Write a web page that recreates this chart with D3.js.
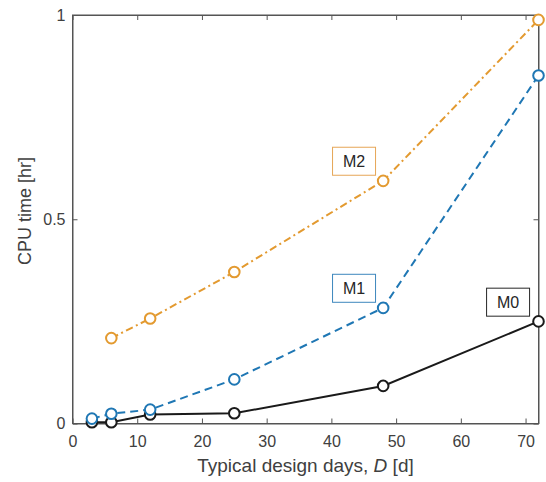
<!DOCTYPE html>
<html><head><meta charset="utf-8">
<script src="https://cdn.jsdelivr.net/npm/d3@7"></script>
<style>body{margin:0;background:#fff}svg{display:block}text{font-family:"Liberation Sans",Arial,sans-serif}</style>
</head><body><svg id="c" width="546" height="482"></svg>
<script>
const xM0 = [3, 6, 12, 25, 48, 72];
const yM0 = [0.003, 0.003, 0.022, 0.025, 0.092, 0.250];
const xM1 = [3, 6, 12, 25, 48, 72];
const yM1 = [0.012, 0.024, 0.034, 0.108, 0.283, 0.852];
const xM2 = [6, 12, 25, 48, 72];
const yM2 = [0.209, 0.257, 0.371, 0.594, 0.988];
const xTicks = [0, 10, 20, 30, 40, 50, 60, 70];
const yTicks = [0, 0.5, 1];
const yTickLabels = ["0", "0.5", "1"];
const labels = ["M0", "M1", "M2"];
const labelAt = [[67.3, 0.297], [43.5, 0.331], [43.5, 0.642]];

const colors = ["#1a1a1a", "#1f77b4", "#e39a30"];
const boxColors = ["#262626", "#3d87bd", "#e6a657"];
const dashes = [null, "8,5", "7.5,3.5,2,3.5"];

const svg = d3.select("#c");
const L = 72.5, R = 538.5, T = 15, B = 423.5;
const x = d3.scaleLinear().domain([0, 72]).range([L, R]);
const y = d3.scaleLinear().domain([0, 1]).range([B, T]);
const axisCol = "#404040";

// box
svg.append("rect").attr("x", L).attr("y", T).attr("width", R - L).attr("height", B - T)
  .attr("fill", "none").attr("stroke", "#555").attr("stroke-width", 1);

// axes with inward ticks
const gx = svg.append("g").attr("transform", `translate(0,${B})`)
  .call(d3.axisBottom(x).tickValues(xTicks).tickSizeInner(-5).tickSizeOuter(0).tickPadding(12));
const gxt = svg.append("g").attr("transform", `translate(0,${T})`)
  .call(d3.axisTop(x).tickValues(xTicks).tickSizeInner(-5).tickSizeOuter(0).tickFormat(""));
const gy = svg.append("g").attr("transform", `translate(${L},0)`)
  .call(d3.axisLeft(y).tickValues(yTicks).tickSizeInner(-5).tickSizeOuter(0).tickPadding(7)
    .tickFormat((d, i) => yTickLabels[i]));
const gyr = svg.append("g").attr("transform", `translate(${R},0)`)
  .call(d3.axisRight(y).tickValues(yTicks).tickSizeInner(-5).tickSizeOuter(0).tickFormat(""));
[gx, gxt, gy, gyr].forEach(g => {
  g.select(".domain").attr("stroke", "#555");
  g.selectAll(".tick line").attr("stroke", "#555");
  g.selectAll(".tick text").attr("fill", axisCol).attr("font-size", 16)
    .style("font-family", '"Liberation Sans",Arial,sans-serif');
});

// axis labels
const xl = svg.append("text").attr("x", 305.5).attr("y", 472).attr("text-anchor", "middle")
  .attr("fill", axisCol).attr("font-size", 19);
xl.append("tspan").text("Typical design days, ");
xl.append("tspan").attr("font-style", "italic").text("D");
xl.append("tspan").text(" [d]");
svg.append("text").attr("transform", `translate(31,211) rotate(-90)`)
  .attr("text-anchor", "middle").attr("fill", axisCol).attr("font-size", 18).text("CPU time [hr]");

// series
const series = [[xM0, yM0], [xM1, yM1], [xM2, yM2]];
const line = d3.line().x(d => x(d[0])).y(d => y(d[1]));
series.forEach(([xs, ys], i) => {
  const pts = xs.map((v, j) => [v, ys[j]]);
  svg.append("path").datum(pts).attr("d", line).attr("fill", "none")
    .attr("stroke", colors[i]).attr("stroke-width", 2)
    .attr("stroke-dasharray", dashes[i]);
  svg.selectAll(null).data(pts).enter().append("circle")
    .attr("cx", d => x(d[0])).attr("cy", d => y(d[1])).attr("r", 5.3)
    .attr("fill", "#fff").attr("stroke", colors[i]).attr("stroke-width", 2);
});

// label boxes
labels.forEach((t, i) => {
  const cx = x(labelAt[i][0]), cy = y(labelAt[i][1]);
  svg.append("rect").attr("x", cx - 21.5).attr("y", cy - 14).attr("width", 43).attr("height", 28)
    .attr("fill", "#fff").attr("stroke", boxColors[i]).attr("stroke-width", 1);
  svg.append("text").attr("x", cx).attr("y", cy + 6).attr("text-anchor", "middle")
    .attr("fill", "#262626").attr("font-size", 16).text(t);
});
</script></body></html>
